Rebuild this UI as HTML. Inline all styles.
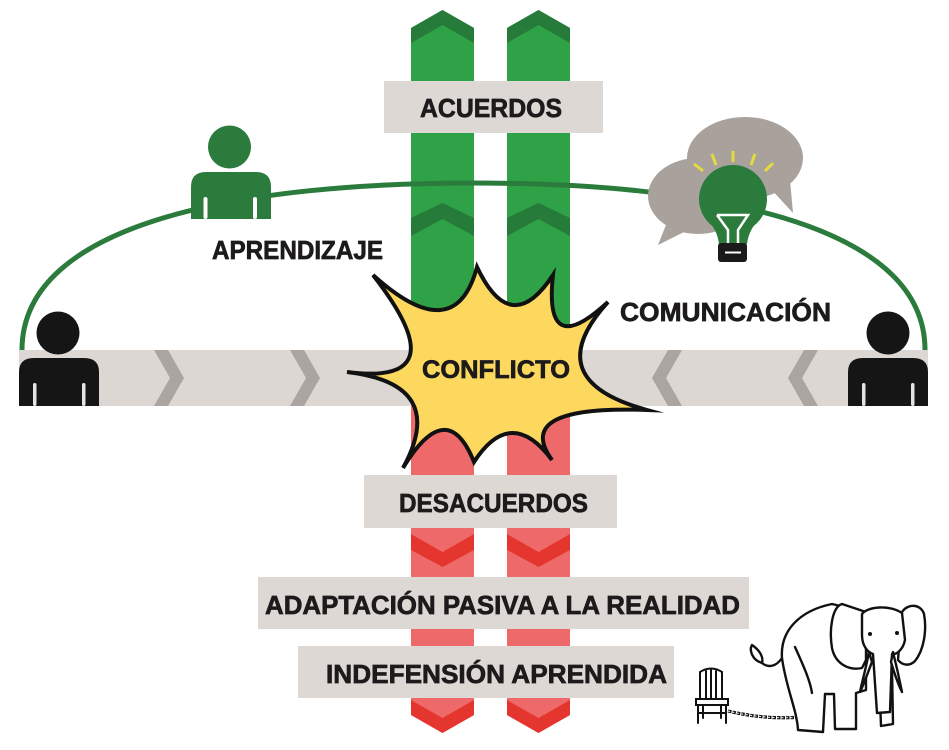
<!DOCTYPE html>
<html>
<head>
<meta charset="utf-8">
<style>
html,body{margin:0;padding:0;background:#fff;}
svg{display:block;}
text{font-family:"Liberation Sans",Arial,sans-serif;font-weight:bold;fill:#1c1a1a;stroke:#1c1a1a;stroke-width:0.7;}
</style>
</head>
<body>
<svg width="949" height="750" viewBox="0 0 949 750" xmlns="http://www.w3.org/2000/svg">
<rect x="0" y="0" width="949" height="750" fill="#fff"/>

<!-- green bars -->
<polygon points="411,28 442.5,10 474,28 474,350 411,350" fill="#2FA247"/>
<polygon points="507,28 538.5,10 570,28 570,350 507,350" fill="#2FA247"/>
<polygon points="411,28 442.5,10 474,28 474,43 442.5,25 411,43" fill="#267A3A"/>
<polygon points="507,28 538.5,10 570,28 570,43 538.5,25 507,43" fill="#267A3A"/>
<polygon points="411,218 442.5,203 474,218 474,236 442.5,219 411,236" fill="#267A3A"/>
<polygon points="507,218 538.5,203 570,218 570,236 538.5,219 507,236" fill="#267A3A"/>

<!-- red bars -->
<polygon points="411,406 474,406 474,715 442.5,733 411,715" fill="#EE6A6A"/>
<polygon points="507,406 570,406 570,715 538.5,733 507,715" fill="#EE6A6A"/>
<polygon points="411,534 442.5,552 474,534 474,550 442.5,567 411,550" fill="#E5352F"/>
<polygon points="507,534 538.5,552 570,534 570,550 538.5,567 507,550" fill="#E5352F"/>
<polygon points="411,700 442.5,718 474,700 474,715 442.5,733 411,715" fill="#E5352F"/>
<polygon points="507,700 538.5,718 570,700 570,715 538.5,733 507,715" fill="#E5352F"/>

<!-- label boxes -->
<rect x="384" y="81" width="219" height="52" fill="#DDD8D4"/>
<rect x="364" y="475" width="253" height="53" fill="#DDD8D4"/>
<rect x="258" y="577" width="491" height="52" fill="#DDD8D4"/>
<rect x="298" y="646" width="376" height="52" fill="#DDD8D4"/>

<!-- gray band -->
<rect x="19" y="350" width="909" height="56" fill="#DCD7D3"/>
<g fill="#ABA5A1">
<polygon points="154,350 168,350 184,378 168,406 154,406 170,378"/>
<polygon points="290,350 304,350 320,378 304,406 290,406 306,378"/>
<polygon points="668,350 682,350 666,378 682,406 668,406 652,378"/>
<polygon points="804,350 818,350 802,378 818,406 804,406 788,378"/>
</g>

<!-- green arc -->
<path d="M22,350 C22,220 250,183 473.5,183 C697,183 925,220 925,350" fill="none" stroke="#2B7B3C" stroke-width="5"/>

<!-- green person -->
<circle cx="229.5" cy="147" r="21.5" fill="#2B7B3C"/>
<path d="M191,219 L191,187 Q191,172 206,172 L256,172 Q271,172 271,187 L271,219 Z" fill="#2B7B3C"/>
<rect x="203.5" y="197" width="4" height="22" rx="2" fill="#fff"/>
<rect x="253" y="197" width="4" height="22" rx="2" fill="#fff"/>

<!-- speech bubbles -->
<g fill="#A9A19C">
<ellipse cx="745" cy="158" rx="58" ry="41"/>
<polygon points="770,188 790,180 793,213"/>
<ellipse cx="698" cy="196" rx="50" ry="38"/>
<polygon points="668,220 692,228 658,245"/>
</g>

<!-- bulb -->
<g stroke="#E3DB3C" stroke-width="3" stroke-linecap="butt">
<line x1="694" y1="164" x2="703" y2="171"/>
<line x1="712" y1="154" x2="716" y2="165"/>
<line x1="733" y1="151" x2="733" y2="162"/>
<line x1="755" y1="154" x2="751" y2="165"/>
<line x1="773" y1="163" x2="765" y2="171"/>
</g>
<circle cx="733" cy="199" r="34" fill="#2B7B3C"/>
<path d="M705,218 Q717,228 719,244 L747,244 Q749,228 761,218 Z" fill="#2B7B3C"/>
<path d="M717,215 L748,215 L738,230 L738,243 M717,215 L728,230 L728,243" fill="none" stroke="#fff" stroke-width="2.5" stroke-linejoin="miter"/>
<rect x="718" y="243" width="29" height="19" rx="3" fill="#1a1a1a"/>
<line x1="725" y1="252.5" x2="741" y2="252.5" stroke="#fff" stroke-width="2"/>

<!-- black persons -->
<circle cx="58" cy="333" r="21.5" fill="#151515"/>
<path d="M19,406 L19,372 Q19,358 34,358 L84,358 Q99,358 99,372 L99,406 Z" fill="#151515"/>
<rect x="33" y="383" width="3.5" height="23" rx="1.7" fill="#E6E2DF"/>
<rect x="82" y="383" width="3.5" height="23" rx="1.7" fill="#E6E2DF"/>
<circle cx="888" cy="333" r="21.5" fill="#151515"/>
<path d="M848,406 L848,372 Q848,358 863,358 L913,358 Q928,358 928,372 L928,406 Z" fill="#151515"/>
<rect x="862" y="383" width="3.5" height="23" rx="1.7" fill="#E6E2DF"/>
<rect x="911" y="383" width="3.5" height="23" rx="1.7" fill="#E6E2DF"/>

<!-- starburst -->
<path d="M347,372 Q460,386.5 373,275 Q455,349 477,267 Q511,339 553,275 Q543.5,361.5 608,302 Q537,380 647,410 Q512,405 552,460 Q511,405 474,462 Q447,395 403,468 Q449,384 347,372 Z" fill="#FCD95E" stroke="#111" stroke-width="4" stroke-linejoin="miter" stroke-miterlimit="10"/>

<!-- texts -->
<text x="420" y="117" font-size="26" textLength="142" lengthAdjust="spacingAndGlyphs">ACUERDOS</text>
<text x="212" y="259" font-size="26" textLength="171" lengthAdjust="spacingAndGlyphs">APRENDIZAJE</text>
<text x="620" y="321" font-size="26" textLength="211" lengthAdjust="spacingAndGlyphs">COMUNICACIÓN</text>
<text x="422" y="378" font-size="25" textLength="148" lengthAdjust="spacingAndGlyphs">CONFLICTO</text>
<text x="399" y="512" font-size="26" textLength="189" lengthAdjust="spacingAndGlyphs">DESACUERDOS</text>
<text x="265" y="614" font-size="26" textLength="475" lengthAdjust="spacingAndGlyphs">ADAPTACIÓN PASIVA A LA REALIDAD</text>
<text x="326" y="683" font-size="26" textLength="341" lengthAdjust="spacingAndGlyphs">INDEFENSIÓN APRENDIDA</text>

<!-- chair -->
<g stroke="#111" stroke-width="2" fill="none" stroke-linecap="round">
<path d="M700,700 L700,672 Q711,665 722,672 L722,700"/>
<path d="M706,671 L706,699 M711,669 L711,699 M716,671 L716,699"/>
<rect x="696" y="699" width="32" height="6" fill="#fff"/>
<path d="M698,705 L698,723 M726,705 L726,723 M703,705 L703,718 M721,705 L721,718 M698,713 L726,713"/>
</g>

<!-- chain -->
<path d="M728,711 Q765,720 802,717" fill="none" stroke="#111" stroke-width="3.2" stroke-dasharray="3.5 1"/>
<path d="M728,711 Q765,720 802,717" fill="none" stroke="#fff" stroke-width="1" stroke-dasharray="2 2.5"/>

<!-- elephant -->
<g stroke="#111" stroke-width="2.4" fill="#fff" stroke-linejoin="round" stroke-linecap="round">
<path d="M782,658 C776,667 768,668 762,663" fill="none"/>
<path d="M762,663 C752,660 749,650 752,645 C758,649 764,656 762,663 Z"/>
<path d="M892,668 L893,724 L881,726 L880,700 Z"/>
<path d="M782,658 C780,632 798,611 832,604 L866,612 L866,690 L856,693 L856,729 L835,729 L834,694 L825,694 L823,732 L798,730 C797,710 786,688 782,658 Z"/>
<path d="M795,647 C803,665 810,680 812,693" fill="none"/>
<path d="M842,604 C832,607 829,630 832,648 C835,663 848,671 862,668 L866,660 L866,612 Z"/>
<path d="M902,612 C908,603 921,604 924,614 C927,630 924,650 915,661 C910,666 903,666 898,660 Z"/>
<path d="M862,614 C868,606 890,605 902,613 L905,640 C903,650 896,655 892,654 L890,712 L877,713 L873,654 C867,652 862,645 862,635 Z"/>
<path d="M869,652 C866,668 862,682 860,692 C864,684 868,672 872,662 Z"/>
<path d="M893,652 C897,668 900,682 902,692 C898,684 894,672 891,662 Z"/>
</g>
<circle cx="870" cy="634" r="2" fill="#111"/>
<circle cx="897" cy="633" r="2" fill="#111"/>
</svg>
</body>
</html>
